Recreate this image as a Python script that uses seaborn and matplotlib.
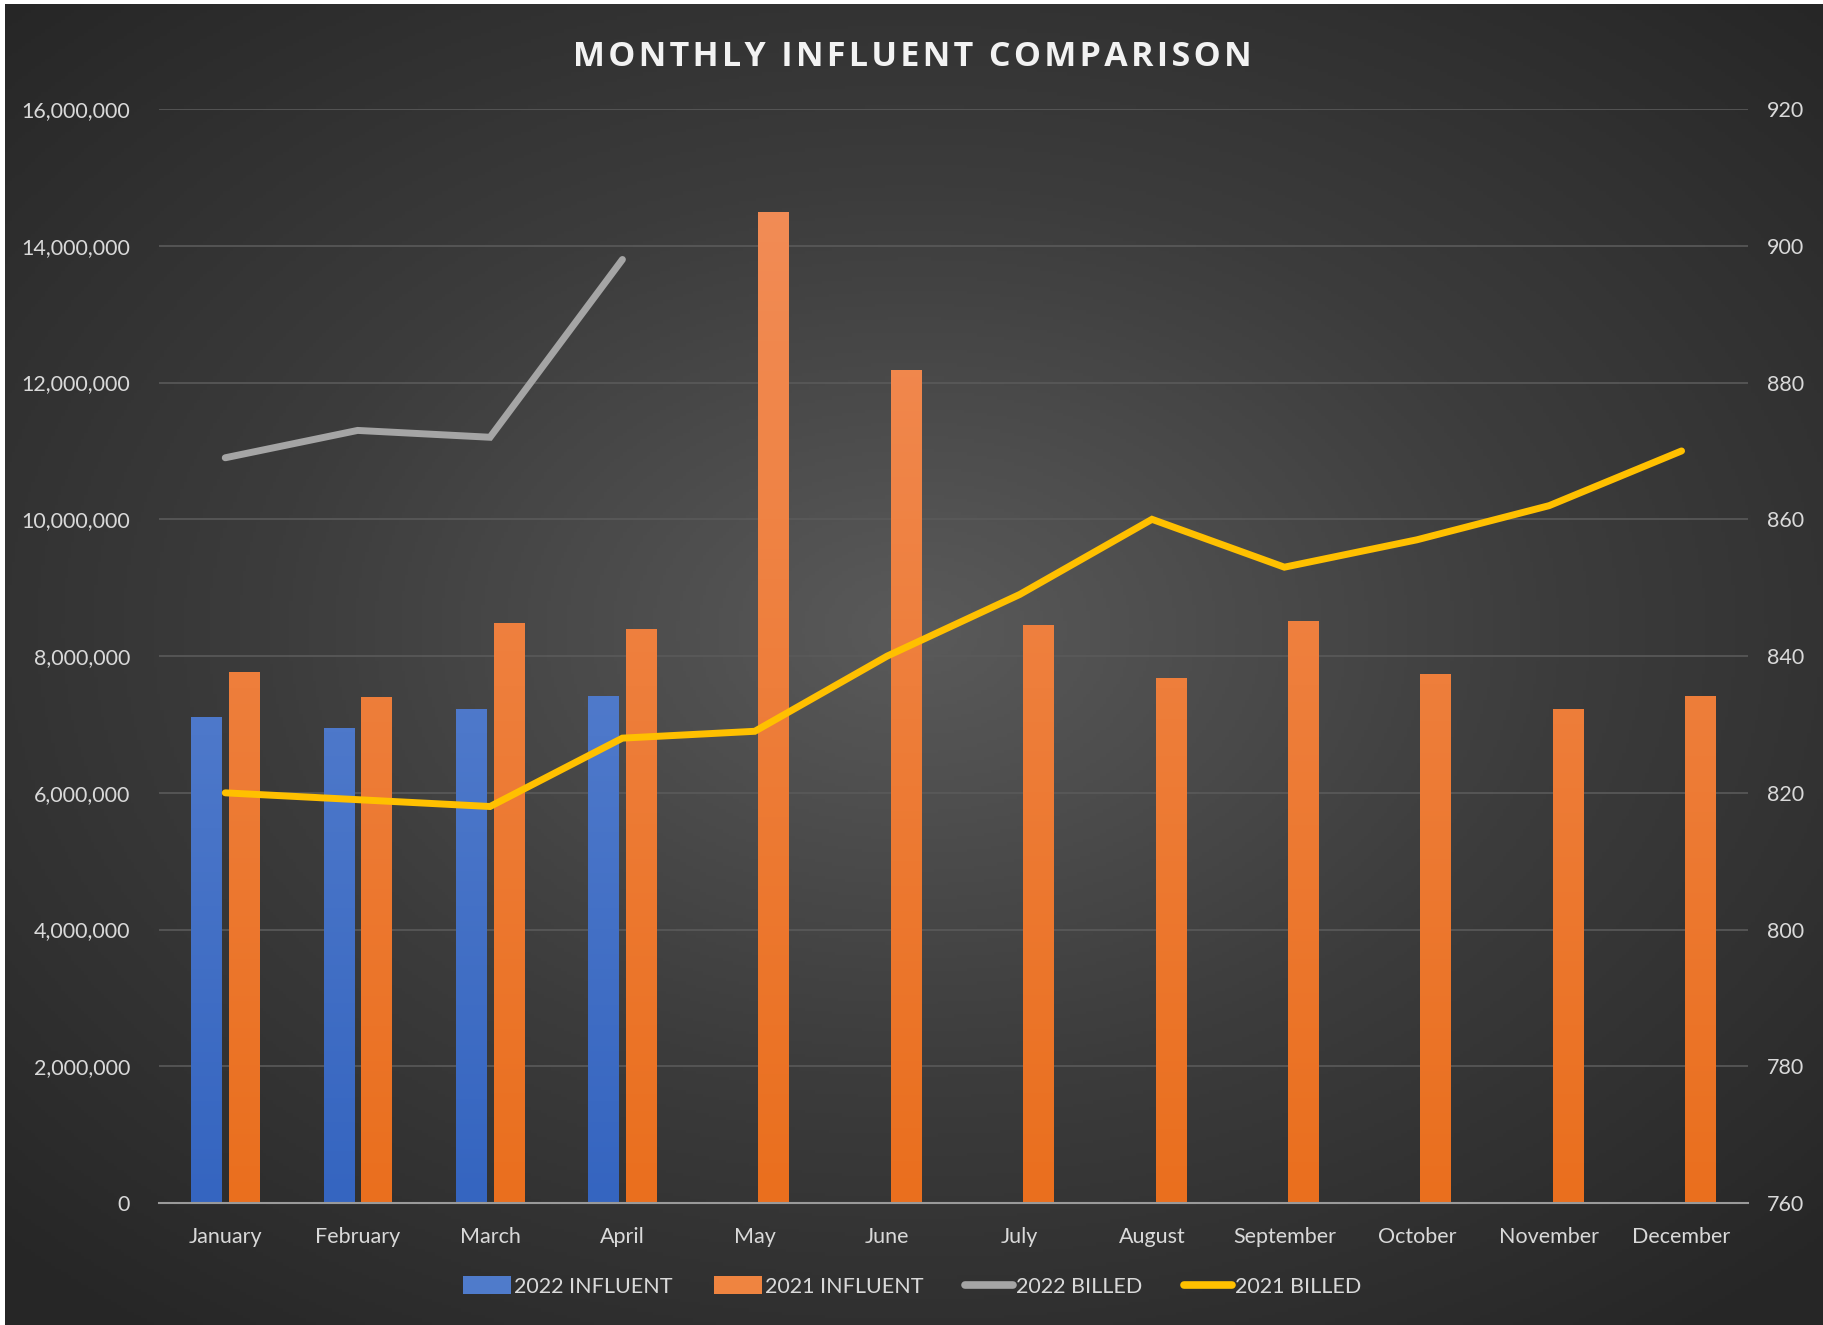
import numpy as np
import pandas as pd
import matplotlib
matplotlib.use("Agg")
import matplotlib.pyplot as plt
import matplotlib.patches as mpatches
from matplotlib.lines import Line2D
from matplotlib.colors import LinearSegmentedColormap
from matplotlib.ticker import FuncFormatter
import seaborn as sns

# data
months = ["January", "February", "March", "April", "May", "June", "July",
          "August", "September", "October", "November", "December"]
influent_2022 = [7.11e6, 6.95e6, 7.23e6, 7.42e6] + [np.nan] * 8
influent_2021 = [7.76e6, 7.40e6, 8.49e6, 8.39e6, 14.49e6, 12.19e6,
                 8.46e6, 7.68e6, 8.51e6, 7.74e6, 7.22e6, 7.42e6]
billed_2022 = [869, 873, 872, 898]
billed_2021 = [820, 819, 818, 828, 829, 840, 849, 860, 853, 857, 862, 870]
left_ticks = np.arange(0, 16e6 + 1, 2e6)
right_ticks = np.arange(760, 921, 20)

BLUE = "#4472C4"
ORANGE = "#ED7D31"
GRAY = "#A5A5A5"
GOLD = "#FFC000"
TXT = "#D9D9D9"

sns.set_style("dark")
plt.rcParams["font.family"] = ["Lato", "DejaVu Sans"]

fig = plt.figure(figsize=(18.24, 13.25), dpi=100)
fig.patch.set_facecolor("white")

# radial gradient background
bg = fig.add_axes([0.003, 0.0, 0.997, 0.997], zorder=-10)
yy, xx = np.mgrid[-1:1:400j, -1:1:550j]
r = np.sqrt((xx * 0.95) ** 2 + ((yy + 0.05) * 1.0) ** 2)
bg_cmap = LinearSegmentedColormap.from_list("bg", ["#5a5a5a", "#3c3c3c", "#262626"])
bg.imshow(np.clip(r / 1.35, 0, 1), cmap=bg_cmap, aspect="auto", vmin=0, vmax=1)
bg.set_axis_off()

ax = fig.add_axes([0.0872, 0.092, 0.871, 0.8257])
ax.set_facecolor("none")

df = pd.DataFrame({
    "month": months * 2,
    "series": ["2022 INFLUENT"] * 12 + ["2021 INFLUENT"] * 12,
    "value": influent_2022 + influent_2021,
})
sns.barplot(data=df, x="month", y="value", hue="series",
            hue_order=["2022 INFLUENT", "2021 INFLUENT"],
            palette=[BLUE, ORANGE], width=0.566, saturation=1,
            errorbar=None, legend=False, ax=ax, zorder=3)

grad = {
    BLUE: LinearSegmentedColormap.from_list("b", ["#3565C0", "#6A8FD6"]),
    ORANGE: LinearSegmentedColormap.from_list("o", ["#EA6F1E", "#F28D58"]),
}
bar_w = 0.23
for p in list(ax.patches):
    h = p.get_height()
    if not np.isfinite(h) or h <= 0:
        continue
    fc = matplotlib.colors.to_hex(p.get_facecolor())
    cm = grad[BLUE] if fc.lower() == BLUE.lower() else grad[ORANGE]
    cx = p.get_x() + p.get_width() / 2
    p.set_x(cx - bar_w / 2)
    p.set_width(bar_w)
    p.set_facecolor("none")
    p.set_edgecolor("none")
    # gradient from bottom (darker) to the top of the bar (lighter)
    frac = h / 16e6
    g = np.linspace(0, frac, 100).reshape(-1, 1)
    im = ax.imshow(g, cmap=cm, vmin=0, vmax=0.95, origin="lower", aspect="auto",
                   extent=[cx - bar_w / 2, cx + bar_w / 2, 0, h], zorder=3)
    im.set_clip_path(p)

ax.set_xlim(-0.5, 11.5)
ax.set_ylim(0, 16e6)
ax.set_yticks(left_ticks)
ax.yaxis.set_major_formatter(FuncFormatter(lambda v, _: f"{int(v):,}"))
ax.grid(axis="y", color="#5a5a5a", linewidth=1.2, zorder=0)
ax.grid(axis="x", visible=False)
ax.tick_params(axis="both", length=0, colors=TXT, labelsize=15.5)
ax.tick_params(axis="x", pad=17)
ax.tick_params(axis="y", pad=21)
ax.set_xlabel("")
ax.set_ylabel("")
for s in ["top", "right", "left"]:
    ax.spines[s].set_visible(False)
ax.spines["bottom"].set_color("#9a9a9a")
ax.spines["bottom"].set_linewidth(1.5)
ax.spines["bottom"].set_zorder(4)

ax2 = ax.twinx()
x = np.arange(len(months))
sns.lineplot(x=x[:len(billed_2022)], y=billed_2022, ax=ax2, color=GRAY,
             linewidth=5, solid_capstyle="round", solid_joinstyle="miter", zorder=5)
sns.lineplot(x=x[:len(billed_2021)], y=billed_2021, ax=ax2, color=GOLD,
             linewidth=5, solid_capstyle="round", solid_joinstyle="miter", zorder=5)
ax2.set_ylim(760, 920)
ax2.set_yticks(right_ticks)
ax2.tick_params(axis="y", length=0, colors=TXT, labelsize=15.5, pad=14)
ax2.grid(False)
for s in ax2.spines.values():
    s.set_visible(False)
ax2.set_facecolor("none")
ax2.set_xlim(-0.5, 11.5)

title = "MONTHLY INFLUENT COMPARISON"
fig.text(0.5, 0.957, "\u200a".join(title),
         ha="center", va="center", color="#F2F2F2", fontsize=24.5,
         fontweight="bold", family=["Open Sans", "DejaVu Sans"])

handles = [
    mpatches.Patch(facecolor="#4F7BCB", edgecolor="none", label="2022 INFLUENT"),
    mpatches.Patch(facecolor="#EF8440", edgecolor="none", label="2021 INFLUENT"),
    Line2D([0], [0], color=GRAY, linewidth=5.5, solid_capstyle="round", label="2022 BILLED"),
    Line2D([0], [0], color=GOLD, linewidth=5.5, solid_capstyle="round", label="2021 BILLED"),
]
leg = fig.legend(handles=handles, loc="center", bbox_to_anchor=(0.5, 0.029), ncol=4,
                 frameon=False, fontsize=15.5, handlelength=2.25, handleheight=0.9,
                 handletextpad=0.15, columnspacing=1.9)
for t in leg.get_texts():
    t.set_color(TXT)

fig.savefig("out.png", dpi=100, facecolor=fig.get_facecolor())
